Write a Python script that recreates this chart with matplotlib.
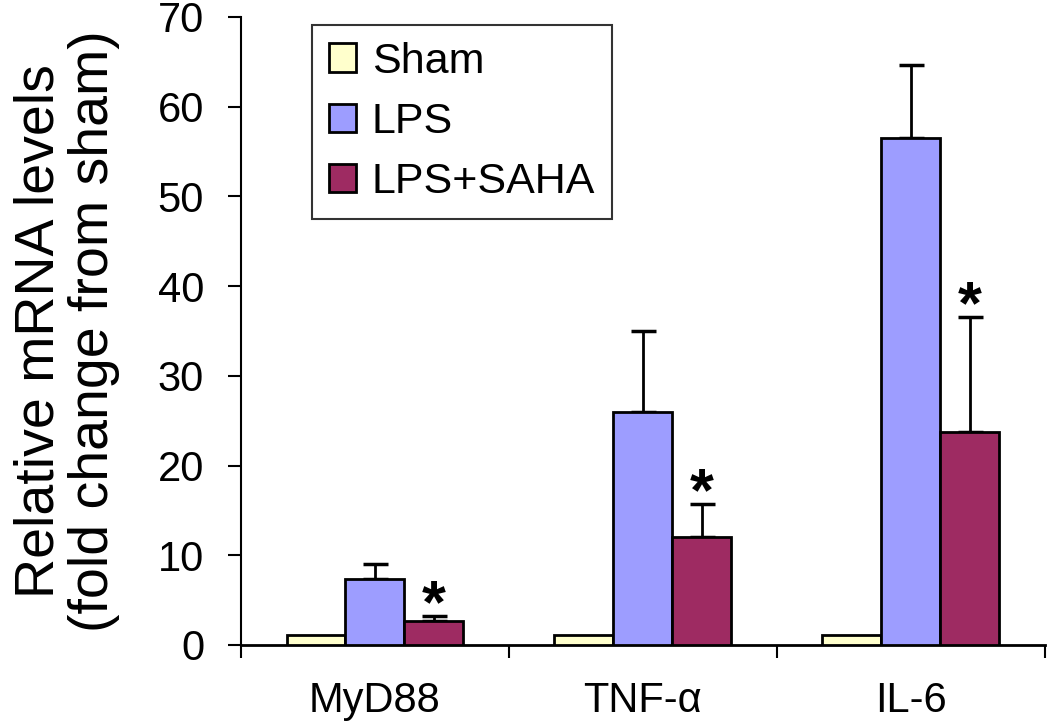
import matplotlib
matplotlib.use("Agg")
import matplotlib.pyplot as plt
import numpy as np

categories = ["MyD88", "TNF-\u03b1", "IL-6"]
series = ["Sham", "LPS", "LPS+SAHA"]
sham = [1.1, 1.1, 1.1]
lps = [7.4, 26.0, 56.5]
lps_err = [1.6, 9.0, 8.2]
saha = [2.7, 12.0, 23.7]
saha_err = [0.5, 3.7, 12.9]
colors = ["#FFFFCC", "#9D9DFF", "#9E2B62"]
yticks = [0, 10, 20, 30, 40, 50, 60, 70]

plt.rcParams['font.family'] = ['Liberation Sans', 'DejaVu Sans']

fig = plt.figure(figsize=(10.5, 7.26), dpi=100)
ax = fig.add_axes([0.2295, 0.1116, 0.7655, 0.865])

x = np.arange(len(categories))
w = 0.22
vals = [sham, lps, saha]
errs = [None, lps_err, saha_err]
handles = []
for i, (v, e, c, lab) in enumerate(zip(vals, errs, colors, series)):
    b = ax.bar(x + (i - 1) * w, v, w, color=c, edgecolor="black", linewidth=2, label=lab, zorder=3)
    handles.append(b)
    if e is not None:
        ax.errorbar(x + (i - 1) * w, v, yerr=[np.zeros(len(e)), e], fmt="none",
                    ecolor="black", elinewidth=2, capsize=9, capthick=2.5, zorder=2)

# significance stars
for xi, v, e in zip(x, saha, saha_err):
    ax.annotate("*", (xi + w, v + e), xytext=(0, -4.5), textcoords="offset points",
                ha="center", va="baseline", fontsize=44, fontweight="bold", zorder=4)

ax.set_xlim(-0.5, 2.5)
ax.set_ylim(0, 70)
ax.set_yticks(yticks)
ax.set_yticklabels([str(t) for t in yticks], fontsize=30)
ax.set_xticks(x)
ax.set_xticklabels(categories, fontsize=30)
ax.tick_params(axis="x", which="major", length=0, pad=26)
ax.set_xticks([-0.5, 0.5, 1.5, 2.5], minor=True)
ax.tick_params(axis="x", which="minor", length=9, width=1.5, direction="out")
ax.tick_params(axis="y", length=9.5, width=1.5, direction="out", pad=17)
for s in ["top", "right"]:
    ax.spines[s].set_visible(False)
ax.spines["left"].set_linewidth(1.5)
ax.spines["bottom"].set_linewidth(2)

ax.set_ylabel("Relative mRNA levels\n(fold change from sham)", fontsize=40,
              labelpad=27, linespacing=1.08)

leg = ax.legend(handles=handles, labels=series, loc="upper left",
                bbox_to_anchor=(0.088, 0.988), fontsize=31, frameon=True,
                fancybox=False, edgecolor="black", handlelength=0.64,
                handleheight=0.64, handletextpad=0.35, labelspacing=0.47,
                borderpad=0.4, borderaxespad=0)
leg.get_frame().set_linewidth(1.5)

fig.savefig("out.png", dpi=100)
